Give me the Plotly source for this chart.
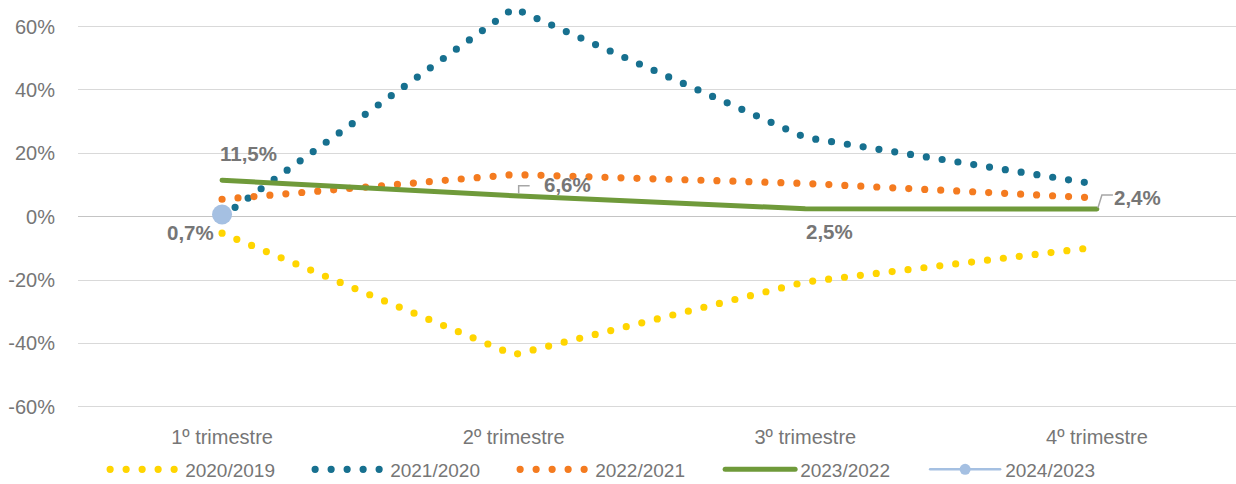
import plotly.graph_objects as go

# Quarter categories and year-on-year variation (%) by period
quarters = ["1º trimestre", "2º trimestre", "3º trimestre", "4º trimestre"]
var_2020_2019 = [-5.2, -43.6, -20.6, -9.6]
var_2021_2020 = [0.0, 65.8, 25.0, 10.2]
var_2022_2021 = [5.5, 13.3, 10.5, 5.9]
var_2023_2022 = [11.5, 6.6, 2.5, 2.4]
var_2024_2023 = [0.7]

y_ticks = [-60, -40, -20, 0, 20, 40, 60]
y_tick_text = ["-60%", "-40%", "-20%", "0%", "20%", "40%", "60%"]

FONT = "Liberation Sans, Arial, sans-serif"
GREY = "#767676"
DOT = "0px,16px"

fig = go.Figure()

dotted = [
    ("2020/2019", var_2020_2019, "#FFD500"),
    ("2021/2020", var_2021_2020, "#17708F"),
    ("2022/2021", var_2022_2021, "#F47B20"),
]
for name, vals, color in dotted:
    fig.add_trace(go.Scatter(
        x=quarters, y=vals, name=name, mode="lines",
        line=dict(color=color, width=7.2, dash=DOT),
    ))

fig.add_trace(go.Scatter(
    x=quarters, y=var_2023_2022, name="2023/2022", mode="lines",
    line=dict(color="#6F9A3A", width=5),
))

# Single-point series: large marker on the chart, smaller entry in the legend
fig.add_trace(go.Scatter(
    x=quarters[:len(var_2024_2023)], y=var_2024_2023, name="2024/2023",
    mode="markers", marker=dict(color="#A5C0E2", size=20),
    showlegend=False,
))
fig.add_trace(go.Scatter(
    x=[None], y=[None], name="2024/2023", mode="lines+markers",
    line=dict(color="#A5C0E2", width=2.5), marker=dict(color="#A5C0E2", size=11),
))

def label(xi, yv, dx, dy):
    fig.add_annotation(
        x=quarters[xi], y=yv, text=f"{yv:.1f}%".replace(".", ","),
        showarrow=False, xshift=dx, yshift=dy,
        font=dict(family=FONT, size=20.5, color=GREY, weight="bold"),
    )

label(0, var_2023_2022[0], 26, 27)
label(0, var_2024_2023[0], -32, -18)
label(1, var_2023_2022[1], 54, 11)
label(2, var_2023_2022[2], 24, -23)
label(3, var_2023_2022[3], 41, 12)

# Leader lines for the offset labels
def leader(xi, yv, path):
    fig.add_shape(
        type="path", xref="x", yref="y", xsizemode="pixel", ysizemode="pixel",
        xanchor=xi, yanchor=yv, path=path,
        line=dict(color="#A6A6A6", width=1.5),
    )

leader(1, var_2023_2022[1], "M5,2 L5,10 L16,10")
leader(3, var_2023_2022[3], "M1,1 L5,14 L16,14")

fig.update_layout(
    width=1236, height=484,
    margin=dict(l=78, r=0, t=0, b=76),
    paper_bgcolor="white", plot_bgcolor="white",
    font=dict(family=FONT, size=20, color=GREY),
    showlegend=True,
    legend=dict(
        orientation="h", x=0.466, xanchor="center",
        yref="container", y=0.03, yanchor="middle",
        font=dict(family=FONT, size=19, color=GREY),
        itemwidth=70, traceorder="normal",
        entrywidth=120, entrywidthmode="pixels",
    ),
    xaxis=dict(
        type="category", range=[-0.494, 3.477],
        showgrid=False, zeroline=False, showline=False, ticks="",
        ticklabelstandoff=15,
    ),
    yaxis=dict(
        range=[-60.4, 68.4], tickvals=y_ticks, ticktext=y_tick_text,
        showgrid=True, gridcolor="#D9D9D9", gridwidth=1,
        zeroline=True, zerolinecolor="#C4C4C4", zerolinewidth=1.2,
        showline=False, ticks="", ticklabelstandoff=22,
    ),
)

round_caps = (
    "var s=document.createElement('style');"
    "s.textContent='path.js-line{stroke-linecap:round !important;}';"
    "document.head.appendChild(s);"
)
fig.write_html("out.html", post_script=round_caps)
